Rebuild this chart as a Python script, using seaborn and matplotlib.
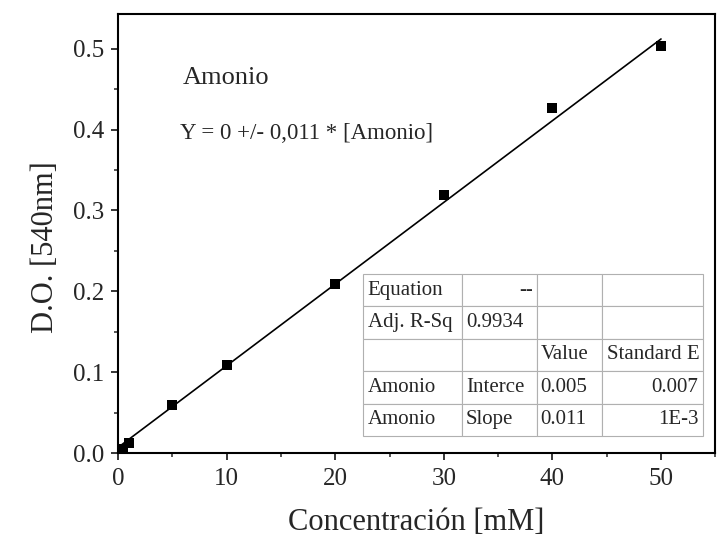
import matplotlib
matplotlib.use("Agg")
import matplotlib.pyplot as plt
import numpy as np
import seaborn as sns
from matplotlib.ticker import MultipleLocator, FormatStrFormatter

# calibration data
conc = [0, 0.5, 1, 5, 10, 20, 30, 40, 50]
od = [0.002, 0.005, 0.012, 0.059, 0.109, 0.209, 0.319, 0.427, 0.503]

# fitted line as drawn on the figure
fit_intercept = 0.007
fit_slope = 0.0101

table_rows = [
    ["Equation", "--", "", ""],
    ["Adj. R-Sq", "0.9934", "", ""],
    ["", "", "Value", "Standard E"],
    ["Amonio", "Interce", "0.005", "0.007"],
    ["Amonio", "Slope", "0.011", "1E-3"],
]
table_align = [
    ["left", "right", "left", "left"],
    ["left", "left", "left", "left"],
    ["left", "left", "left", "left"],
    ["left", "left", "left", "right"],
    ["left", "left", "left", "right"],
]

sns.set_style("ticks")
plt.rcParams["font.family"] = ["Liberation Serif", "DejaVu Serif"]

fig = plt.figure(figsize=(7.24, 5.56), dpi=100)
ax = fig.add_axes([0.163, 0.185, 0.825, 0.79])

fit_x = np.array([min(conc), max(conc)])
sns.lineplot(x=fit_x, y=fit_intercept + fit_slope * fit_x, ax=ax,
             color="black", linewidth=1.2)
sns.scatterplot(x=conc, y=od, ax=ax, marker="s", color="black",
                s=55, linewidth=0, zorder=3)

ax.set_xlim(0, 55)
ax.set_ylim(0, 0.543)
ax.xaxis.set_major_locator(MultipleLocator(10))
ax.xaxis.set_minor_locator(MultipleLocator(5))
ax.yaxis.set_major_locator(MultipleLocator(0.1))
ax.yaxis.set_minor_locator(MultipleLocator(0.05))
ax.yaxis.set_major_formatter(FormatStrFormatter("%.1f"))
ax.tick_params(which="major", length=5, width=1.3, labelsize=18, direction="out")
ax.tick_params(axis="x", which="major", pad=6)
ax.tick_params(axis="y", which="major", pad=5)
ax.tick_params(which="minor", length=3, width=1.1, direction="out")
for sp in ax.spines.values():
    sp.set_linewidth(1.5)
    sp.set_color("black")

ax.set_xlabel("Concentración [mM]", fontsize=22, labelpad=13)
ax.set_ylabel("D.O. [540nm]", fontsize=22, labelpad=9, y=0.47)

ax.text(0.109, 0.855, "Amonio", transform=ax.transAxes, fontsize=19, va="center")
ax.text(0.104, 0.727, "Y = 0 +/- 0,011 * [Amonio]", transform=ax.transAxes,
        fontsize=16.5, va="center")

tbl = ax.table(cellText=table_rows, bbox=[0.41, 0.039, 0.57, 0.369],
               colWidths=[99, 75, 65, 101], zorder=5)
tbl.auto_set_font_size(False)
for (r, c), cell in tbl.get_celld().items():
    cell.set_edgecolor("#b0b0b0")
    cell.set_linewidth(0.8)
    cell.set_facecolor("white")
    cell.get_text().set_fontsize(15)
    cell.get_text().set_ha(table_align[r][c])
    cell.PAD = 0.05
    cell._loc = table_align[r][c]

fig.savefig("out.png", dpi=100)
